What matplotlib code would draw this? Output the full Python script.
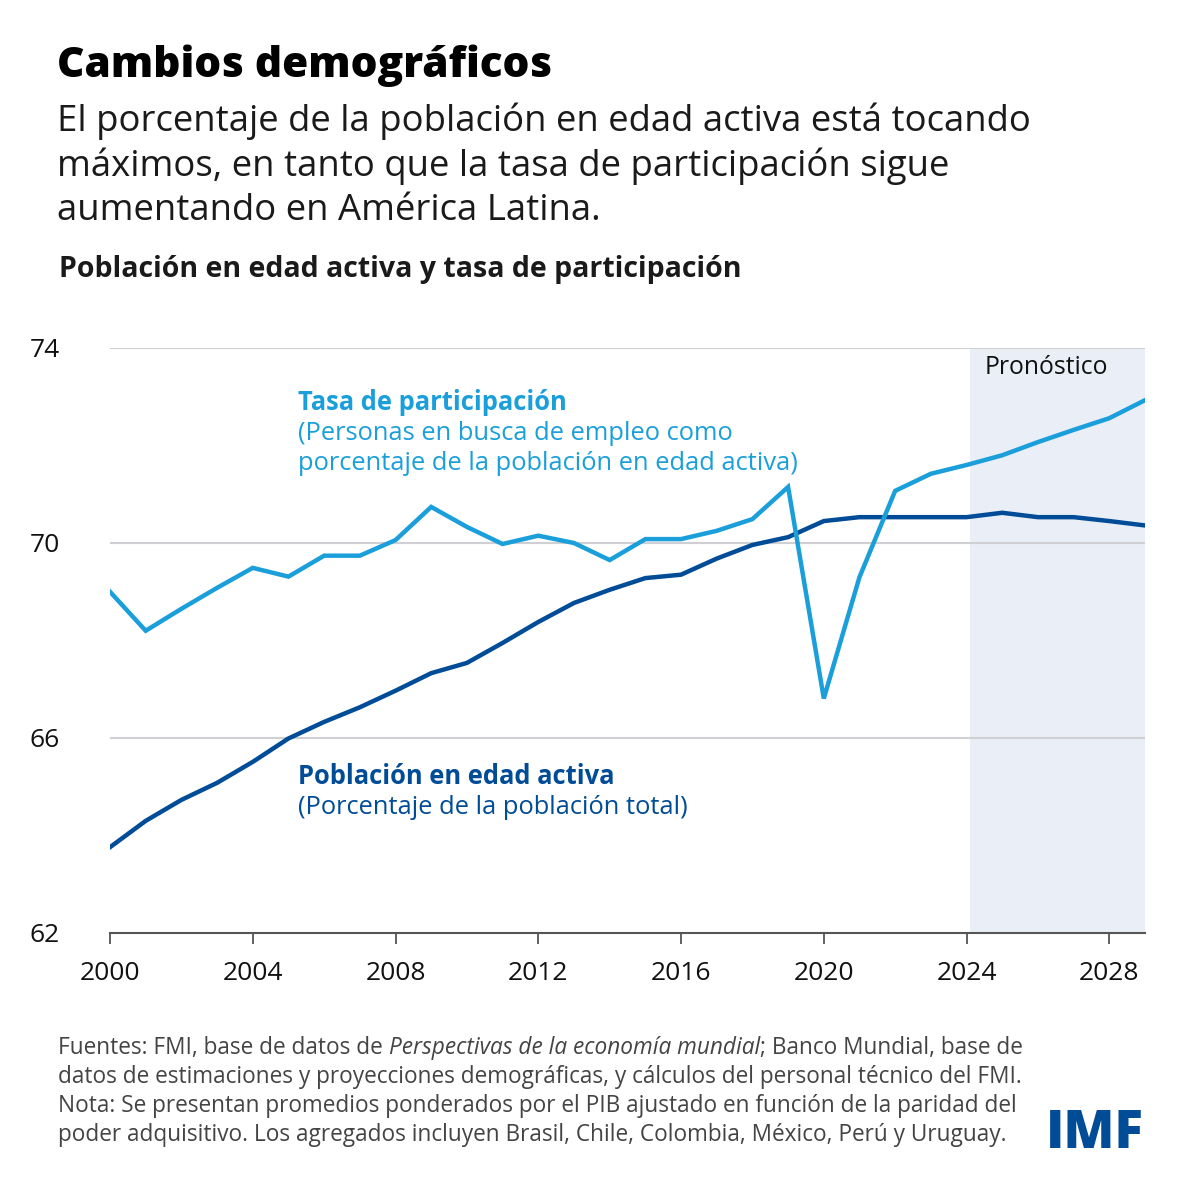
import matplotlib.pyplot as plt
import numpy as np

plt.rcParams["font.family"] = ["Open Sans", "DejaVu Sans"]

years = list(range(2000, 2030))
tasa_participacion = [
    69.0, 68.2, 68.65, 69.08, 69.49, 69.31, 69.74, 69.74, 70.06, 70.74,
    70.33, 69.98, 70.15, 70.0, 69.65, 70.08, 70.08, 70.25, 70.49, 71.15,
    66.81, 69.3, 71.07, 71.42, 71.6, 71.8, 72.07, 72.32, 72.56, 72.93,
]
poblacion_activa = [
    63.76, 64.3, 64.73, 65.08, 65.51, 65.99, 66.33, 66.63, 66.97, 67.33,
    67.54, 67.95, 68.38, 68.77, 69.04, 69.28, 69.35, 69.68, 69.96, 70.12,
    70.45, 70.53, 70.53, 70.53, 70.53, 70.62, 70.53, 70.53, 70.45, 70.36,
]
y_ticks = [62, 66, 70, 74]
x_ticks = [2000, 2004, 2008, 2012, 2016, 2020, 2024, 2028]
forecast_start = 2024.1

LIGHT = "#1A9FDB"
DARK = "#004C97"
W, H = 1200, 1200


def fx(px):
    return px / W


def fy(py):
    return 1 - py / H


fig = plt.figure(figsize=(12, 12), dpi=100)
fig.patch.set_facecolor("white")

ax = fig.add_axes([fx(110), fy(933), fx(1145 - 110), (933 - 348) / H])
ax.axvspan(forecast_start, 2029, color="#E9EEF7", zorder=0, lw=0)
for yt in y_ticks[1:]:
    ax.axhline(yt, color="#CFCFD4", lw=1.5, zorder=1)
ax.plot(years, poblacion_activa, color=DARK, lw=3.2, zorder=3, solid_joinstyle="miter")
ax.plot(years, tasa_participacion, color=LIGHT, lw=3.2, zorder=4, solid_joinstyle="miter")

ax.set_xlim(2000, 2029)
ax.set_ylim(62, 74)
ax.set_yticks(y_ticks)
ax.set_xticks(x_ticks)
ax.set_xticklabels([str(x) for x in x_ticks])
for s in ["top", "right", "left"]:
    ax.spines[s].set_visible(False)
ax.spines["bottom"].set_color("#555555")
ax.spines["bottom"].set_linewidth(1.5)
ax.tick_params(axis="y", length=0, pad=22, labelsize=19, labelcolor="#111111")
ax.tick_params(axis="x", length=8, width=1.3, color="#555555", pad=12,
               labelsize=19, labelcolor="#111111")
for lab in ax.get_yticklabels():
    lab.set_horizontalalignment("left")
    lab.set_x(-0.048)
ax.set_facecolor("none")

ax.text(2026.25, 73.6, "Pronóstico", fontsize=17.8, color="#111111", ha="center", va="center")

# series labels
lab_kw = dict(fontsize=18.4, va="center")
fig.text(fx(298), fy(402), "Tasa de participación", fontweight="bold", color=LIGHT, **lab_kw)
fig.text(fx(298), fy(433), "(Personas en busca de empleo como", color=LIGHT, **lab_kw)
fig.text(fx(298), fy(464), "porcentaje de la población en edad activa)", color=LIGHT, **lab_kw)
fig.text(fx(298), fy(776), "Población en edad activa", fontweight="bold", color=DARK, **lab_kw)
fig.text(fx(298), fy(807), "(Porcentaje de la población total)", color=DARK, **lab_kw)

# headings
fig.text(fx(57), fy(66), "Cambios demográficos", fontsize=30.5, fontweight="heavy",
         color="#000000", va="center")
subtitle = [
    "El porcentaje de la población en edad activa está tocando",
    "máximos, en tanto que la tasa de participación sigue",
    "aumentando en América Latina.",
]
for i, line in enumerate(subtitle):
    fig.text(fx(57), fy(121 + i * 45), line, fontsize=26.3, color="#1A1A1A", va="center")
fig.text(fx(59), fy(270), "Población en edad activa y tasa de participación",
         fontsize=20.5, fontweight="bold", color="#1A1A1A", va="center")

# footer
renderer = fig.canvas.get_renderer()
foot_kw = dict(fontsize=16.3, color="#444444", va="center")
x0 = fx(58)
pieces = [
    ("Fuentes: FMI, base de datos de ", "normal"),
    ("Perspectivas de la economía mundial", "italic"),
    ("; Banco Mundial, base de", "normal"),
]
xcur = x0
for txt, style in pieces:
    t = fig.text(xcur, fy(1048), txt, fontstyle=style, **foot_kw)
    bb = t.get_window_extent(renderer=renderer)
    xcur += bb.width / W
footer_lines = [
    "datos de estimaciones y proyecciones demográficas, y cálculos del personal técnico del FMI.",
    "Nota: Se presentan promedios ponderados por el PIB ajustado en función de la paridad del",
    "poder adquisitivo. Los agregados incluyen Brasil, Chile, Colombia, México, Perú y Uruguay.",
]
for i, line in enumerate(footer_lines):
    fig.text(x0, fy(1077 + i * 29), line, **foot_kw)

fig.text(fx(1144), fy(1135), "IMF", fontsize=38, fontweight="heavy", color=DARK,
         ha="right", va="center")

fig.savefig("out.png", dpi=100, facecolor="white")
